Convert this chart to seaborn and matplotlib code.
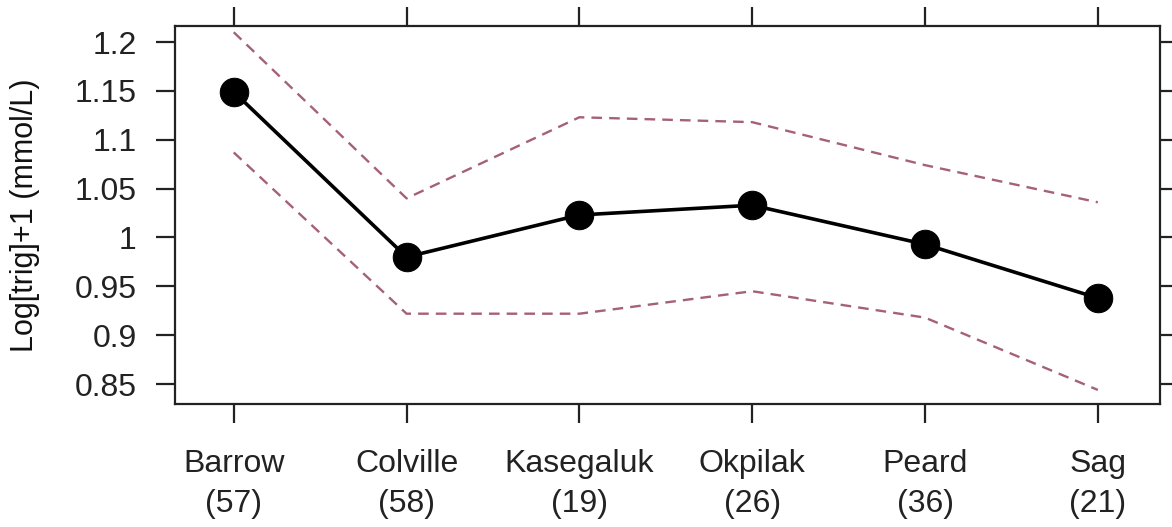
import numpy as np
import pandas as pd
import matplotlib
matplotlib.use("Agg")
import matplotlib.pyplot as plt
import seaborn as sns

# Sites and sample sizes
sites = ["Barrow", "Colville", "Kasegaluk", "Okpilak", "Peard", "Sag"]
counts = [57, 58, 19, 26, 36, 21]

# Mean log-triglyceride per site with upper/lower confidence bounds
mean_vals = [1.149, 0.980, 1.023, 1.033, 0.993, 0.938]
upper_vals = [1.210, 1.040, 1.123, 1.118, 1.074, 1.036]
lower_vals = [1.087, 0.922, 0.922, 0.945, 0.918, 0.844]

y_ticks = [0.85, 0.9, 0.95, 1.0, 1.05, 1.1, 1.15, 1.2]
y_tick_labels = ["0.85", "0.9", "0.95", "1", "1.05", "1.1", "1.15", "1.2"]

sns.set_theme(style="ticks")
plt.rcParams["font.family"] = ["Liberation Sans", "DejaVu Sans"]

pos = np.arange(len(sites))
df = pd.DataFrame({"pos": pos, "mean": mean_vals,
                   "upper": upper_vals, "lower": lower_vals})

fig = plt.figure(figsize=(11.72, 5.27), dpi=100)
ax = fig.add_axes([0.1493, 0.2334, 0.8405, 0.7173])

band_color = "#a5607a"
for col in ["upper", "lower"]:
    sns.lineplot(data=df, x="pos", y=col, ax=ax, color=band_color,
                 linewidth=1.7, dashes=False, linestyle=(0, (4.5, 3.0)),
                 estimator=None, sort=False)

sns.lineplot(data=df, x="pos", y="mean", ax=ax, color="black",
             linewidth=2.6, marker="o", markersize=20.5,
             markeredgecolor="black", markerfacecolor="black",
             estimator=None, sort=False)

ax.set_xlim(-0.34, 5.36)
ax.set_ylim(0.8296, 1.2164)

tick_fs = 23
ax.set_xticks(pos)
ax.set_xticklabels([f"{s}\n({n})" for s, n in zip(sites, counts)],
                   fontsize=tick_fs, color="#222222", linespacing=1.45)
ax.set_yticks(y_ticks)
ax.set_yticklabels(y_tick_labels, fontsize=tick_fs, color="#222222")

ax.tick_params(axis="x", which="both", direction="out", length=13.5,
               width=1.6, top=True, bottom=True, labeltop=False,
               pad=19, colors="#222222")
ax.tick_params(axis="y", which="both", direction="out", length=13.5,
               width=1.6, left=True, right=True, labelright=False,
               pad=14, colors="#222222")
for spine in ax.spines.values():
    spine.set_visible(True)
    spine.set_linewidth(1.6)
    spine.set_color("#222222")

ax.set_xlabel("")
ax.set_ylabel("Log[trig]+1 (mmol/L)", fontsize=22, color="#111111")
ax.yaxis.set_label_coords(-0.137, 0.5)

fig.savefig("out.png", dpi=100, facecolor="white")
